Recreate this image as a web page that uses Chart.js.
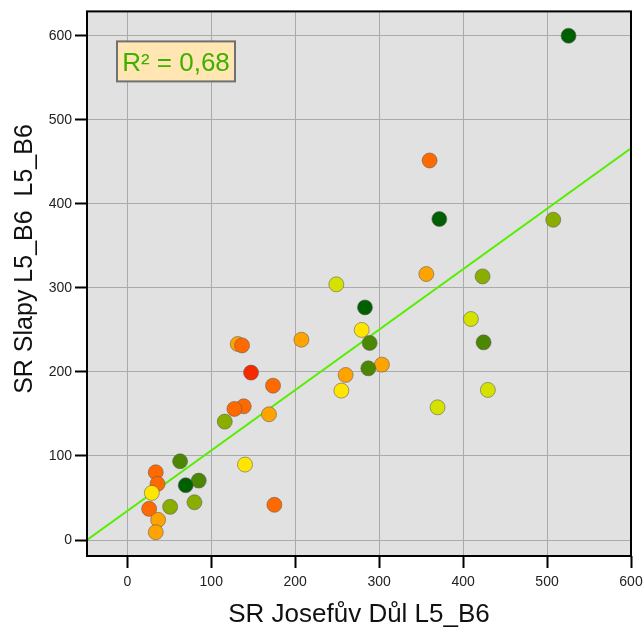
<!DOCTYPE html>
<html>
<head>
<meta charset="utf-8">
<script src="https://cdn.jsdelivr.net/npm/chart.js@4"></script>
<style>
  html, body { margin: 0; padding: 0; background: #ffffff; }
  #wrap { width: 643px; height: 628px; }
</style>
</head>
<body>
<div id="wrap"><canvas id="c" width="643" height="628"></canvas></div>
<script>
// ---- data ----
const xValues = [525.6, 360.1, 371.7, 507.4, 356.2, 423.2, 249.0, 283.1, 409.3, 279.2,
                 207.4, 288.7, 424.4, 303.3, 287.1, 260.1, 255.0, 429.5, 369.6, 131.5,
                 136.7, 147.4, 173.6, 138.7, 127.6, 168.8, 116.1, 140.2, 62.9, 33.9,
                 36.0, 85.1, 69.6, 29.2, 80.0, 51.0, 26.0, 175.2, 36.7, 33.9];
const yValues = [600.0, 451.6, 381.9, 381.1, 316.5, 313.7, 304.2, 276.8, 263.0, 250.0,
                 238.4, 234.5, 235.2, 208.7, 204.3, 196.4, 177.8, 178.6, 157.9, 233.3,
                 231.6, 199.2, 183.7, 159.1, 156.0, 149.6, 140.9, 89.8, 93.7, 80.6,
                 66.8, 70.7, 65.2, 56.1, 44.9, 39.5, 37.1, 41.9, 24.0, 9.3];
// colour class of each point (0 = dark green ... 7 = red)
const colorClass = [0, 6, 0, 2, 5, 2, 3, 0, 3, 4,
                    5, 1, 1, 5, 1, 5, 4, 3, 3, 5,
                    6, 7, 6, 6, 6, 5, 2, 4, 1, 6,
                    6, 1, 0, 4, 2, 2, 6, 6, 5, 5];
const fitX = [-48, 600];
const fitY = [0, 466];
const r2Label = "R² = 0,68";
const xTitle = "SR Josefův Důl L5_B6";
const yTitle = "SR Slapy L5_B6  L5_B6";
const tickStep = 100;

// ---- styles ----
const palette = ['#005f00', '#4b8700', '#8aae00', '#d5e200', '#ffe500', '#ffa300', '#ff6a00', '#f52a00'];
const FONT = '"Liberation Sans", Arial, sans-serif';

const points = xValues.map((x, i) => ({ x: x, y: yValues[i] }));
const pointColors = colorClass.map(c => palette[c]);

const decoPlugin = {
  id: 'decoPlugin',
  beforeDraw(chart) {
    const { ctx, chartArea: a } = chart;
    ctx.save();
    ctx.fillStyle = '#e1e1e1';
    ctx.fillRect(a.left, a.top, a.right - a.left, a.bottom - a.top);
    ctx.restore();
  },
  afterDraw(chart) {
    const { ctx, chartArea: a } = chart;
    ctx.save();
    ctx.strokeStyle = '#000000';
    ctx.lineWidth = 2;
    ctx.strokeRect(a.left, a.top, a.right - a.left, a.bottom - a.top);
    // R² box
    const bx = a.left + 30, by = a.top + 30, bw = 118, bh = 40;
    ctx.fillStyle = '#ffe6b3';
    ctx.fillRect(bx, by, bw, bh);
    ctx.strokeStyle = '#707070';
    ctx.lineWidth = 2;
    ctx.strokeRect(bx, by, bw, bh);
    ctx.fillStyle = '#3db000';
    ctx.font = '26px ' + FONT;
    ctx.textAlign = 'center';
    ctx.textBaseline = 'alphabetic';
    ctx.fillText(r2Label, bx + bw / 2, by + bh / 2 + 9.5);
    // axis titles
    ctx.fillStyle = '#111111';
    ctx.font = '26px ' + FONT;
    ctx.textAlign = 'center';
    ctx.fillText(xTitle, (a.left + a.right) / 2, 621.5);
    ctx.font = '25px ' + FONT;
    ctx.translate(32, 259);
    ctx.rotate(-Math.PI / 2);
    ctx.fillText(yTitle, 0, 0);
    ctx.restore();
  }
};

function keepSteps(scale) {
  scale.ticks = scale.ticks.filter(t => Math.abs(t.value % tickStep) < 1e-6);
}

new Chart(document.getElementById('c'), {
  data: {
    datasets: [
      {
        type: 'line',
        data: fitX.map((x, i) => ({ x: x, y: fitY[i] })),
        borderColor: '#55ee00',
        borderWidth: 2,
        pointRadius: 0,
        fill: false,
        order: 2
      },
      {
        type: 'scatter',
        data: points,
        backgroundColor: pointColors,
        borderColor: 'rgba(90,90,90,0.55)',
        borderWidth: 1,
        pointRadius: 7.5,
        pointHoverRadius: 7.5,
        order: 1
      }
    ]
  },
  options: {
    responsive: false,
    animation: false,
    devicePixelRatio: 1,
    layout: { padding: { left: 0, right: 12, top: 11, bottom: 0 } },
    plugins: { legend: { display: false }, tooltip: { enabled: false } },
    scales: {
      x: {
        type: 'linear',
        min: -48, max: 600,
        afterBuildTicks: keepSteps,
        afterFit(s) { s.height = 72; s.paddingRight = 0; },
        grid: { color: '#aaaaaa', lineWidth: 1, tickColor: '#000000', tickLength: 12, tickWidth: 2 },
        border: { display: false },
        ticks: { stepSize: 100, includeBounds: false, autoSkip: false, maxRotation: 0, color: '#222222', padding: 6, font: { size: 14, family: FONT } },
        title: { display: false }
      },
      y: {
        type: 'linear',
        min: -19, max: 629,
        afterBuildTicks: keepSteps,
        afterFit(s) { s.width = 87; },
        grid: { color: '#aaaaaa', lineWidth: 1, tickColor: '#000000', tickLength: 12, tickWidth: 2 },
        border: { display: false },
        ticks: { stepSize: 100, includeBounds: false, autoSkip: false, color: '#222222', padding: 3, font: { size: 14, family: FONT } },
        title: { display: false }
      }
    }
  },
  plugins: [decoPlugin]
});
</script>
</body>
</html>
